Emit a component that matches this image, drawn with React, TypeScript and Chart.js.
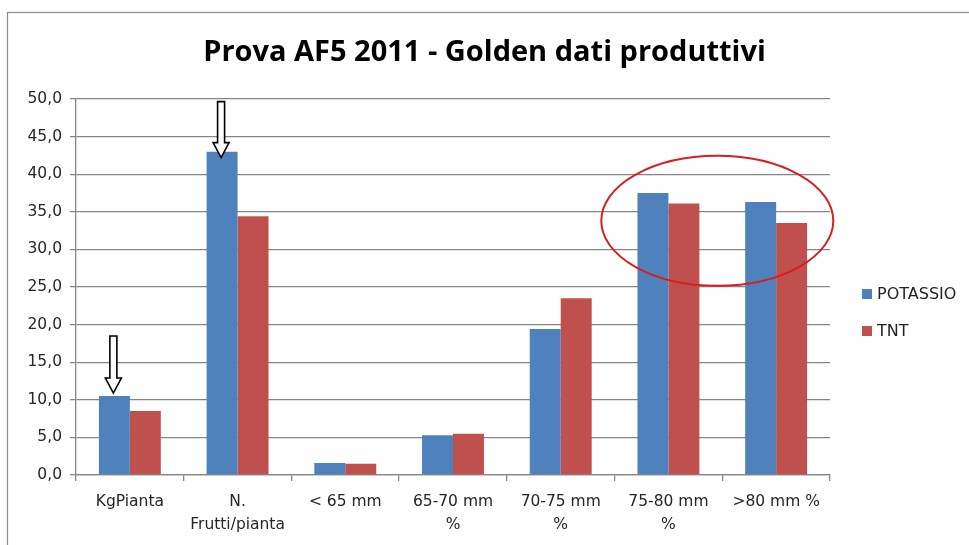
import React, { useEffect, useRef } from "react";
import { Chart, registerables } from "chart.js";

Chart.register(...registerables);

const chartTitle = "Prova AF5 2011 - Golden dati produttivi";
const categories: string[][] = [
  ["KgPianta"],
  ["N.", "Frutti/pianta"],
  ["< 65 mm"],
  ["65-70 mm", "%"],
  ["70-75 mm", "%"],
  ["75-80 mm", "%"],
  [">80 mm %"],
];
const seriesNames = ["POTASSIO", "TNT"];
const potassio = [10.5, 43.0, 1.6, 5.3, 19.4, 37.5, 36.3];
const tnt = [8.5, 34.4, 1.5, 5.5, 23.5, 36.1, 33.5];
const yMin = 0;
const yMax = 50;
const yStep = 5;
// annotated bars (POTASSIO series) and highlighted categories
const arrowBarIndices = [0, 1];
const highlightedCategories = [5, 6];

const BLUE = "#4F81BD";
const RED = "#C0504D";
const AXIS_FONT = "'DejaVu Sans', sans-serif";
const TITLE_FONT = "'Open Sans', 'DejaVu Sans', sans-serif";

const framePlugin = {
  id: "frame",
  beforeDraw(chart: any) {
    const ctx = chart.ctx;
    ctx.save();
    ctx.fillStyle = "#ffffff";
    ctx.fillRect(0, 0, chart.width, chart.height);
    ctx.strokeStyle = "#8c8c8c";
    ctx.lineWidth = 1.2;
    ctx.strokeRect(7.5, 12.5, chart.width + 20, chart.height + 20);
    ctx.restore();
  },
};

const legendPlugin = {
  id: "sideLegend",
  afterDraw(chart: any) {
    const ctx = chart.ctx;
    const area = chart.chartArea;
    ctx.save();
    ctx.font = `16px ${AXIS_FONT}`;
    ctx.textBaseline = "middle";
    ctx.textAlign = "left";
    chart.data.datasets.forEach((ds: any, i: number) => {
      const cy = area.top + 195 + i * 37;
      const x = area.right + 32;
      ctx.fillStyle = ds.backgroundColor;
      ctx.fillRect(x, cy - 5, 10, 10);
      ctx.fillStyle = "#222222";
      ctx.fillText(ds.label, x + 15, cy + 1);
    });
    ctx.restore();
  },
};

const annotationPlugin = {
  id: "marks",
  afterDatasetsDraw(chart: any) {
    const ctx = chart.ctx;
    const meta = chart.getDatasetMeta(0);
    ctx.save();
    arrowBarIndices.forEach((idx, k) => {
      const bar = meta.data[idx];
      const x = bar.x - 1;
      const tip = k === 0 ? bar.y - 3 : bar.y + 6;
      const len = k === 0 ? 57 : 56;
      const headH = 15;
      const hw = 8;
      const sw = 3.5;
      ctx.beginPath();
      ctx.moveTo(x - sw, tip - len);
      ctx.lineTo(x + sw, tip - len);
      ctx.lineTo(x + sw, tip - headH);
      ctx.lineTo(x + hw, tip - headH);
      ctx.lineTo(x, tip);
      ctx.lineTo(x - hw, tip - headH);
      ctx.lineTo(x - sw, tip - headH);
      ctx.closePath();
      ctx.fillStyle = "#ffffff";
      ctx.fill();
      ctx.strokeStyle = "#000000";
      ctx.lineWidth = 1.6;
      ctx.stroke();
    });
    const xs = chart.scales.x;
    const ys = chart.scales.y;
    const c1 = xs.getPixelForValue(highlightedCategories[0]);
    const c2 = xs.getPixelForValue(highlightedCategories[1]);
    const cx = (c1 + c2) / 2 - 5;
    const cy = ys.getPixelForValue(33.8);
    ctx.beginPath();
    ctx.ellipse(cx, cy, 116, 65, 0, 0, Math.PI * 2);
    ctx.strokeStyle = "#d42020";
    ctx.lineWidth = 2;
    ctx.stroke();
    ctx.restore();
  },
};

export default function App() {
  const ref = useRef<HTMLCanvasElement | null>(null);

  useEffect(() => {
    if (!ref.current) return;
    const chart = new Chart(ref.current, {
      type: "bar",
      data: {
        labels: categories,
        datasets: [
          {
            label: seriesNames[0],
            data: potassio,
            backgroundColor: BLUE,
            borderWidth: 0,
            categoryPercentage: 0.575,
            barPercentage: 1,
          },
          {
            label: seriesNames[1],
            data: tnt,
            backgroundColor: RED,
            borderWidth: 0,
            categoryPercentage: 0.575,
            barPercentage: 1,
          },
        ],
      },
      options: {
        animation: false,
        responsive: false,
        devicePixelRatio: 1,
        layout: { padding: 0 },
        plugins: {
          legend: { display: false },
          tooltip: { enabled: false },
          title: {
            display: true,
            text: chartTitle,
            color: "#000000",
            font: { family: TITLE_FONT, size: 29, weight: "bold", lineHeight: 1.2 },
            padding: { top: 35.5, bottom: 28.7 },
          },
        },
        scales: {
          x: {
            grid: {
              display: true,
              offset: true,
              drawOnChartArea: false,
              drawTicks: true,
              tickLength: 6,
              color: "#868686",
              lineWidth: 1.3,
            },
            border: { display: true, color: "#868686", width: 1.3 },
            ticks: {
              color: "#262626",
              font: { family: AXIS_FONT, size: 15.5, lineHeight: 1.5 },
              padding: 9,
              maxRotation: 0,
              autoSkip: false,
            },
            afterFit(scale: any) {
              scale.height = 70;
            },
          },
          y: {
            min: yMin,
            max: yMax,
            grid: {
              color: "#868686",
              lineWidth: 1.3,
              tickLength: 6,
              drawTicks: true,
            },
            border: { display: true, color: "#868686", width: 1.3 },
            ticks: {
              stepSize: yStep,
              color: "#262626",
              font: { family: AXIS_FONT, size: 15.5 },
              padding: 8,
              callback: (v: any) => Number(v).toFixed(1).replace(".", ","),
            },
            afterFit(scale: any) {
              scale.width = 76;
            },
          },
          legendSpace: {
            type: "linear",
            position: "right",
            display: true,
            grid: { display: false, drawTicks: false },
            border: { display: false },
            ticks: { display: false },
            afterFit(scale: any) {
              scale.width = 139;
            },
          },
        },
      },
      plugins: [framePlugin, annotationPlugin, legendPlugin],
    } as any);
    return () => chart.destroy();
  }, []);

  return (
    <div style={{ position: "fixed", left: 0, top: 0, width: 969, height: 545, background: "#fff" }}>
      <canvas ref={ref} width={969} height={545} style={{ display: "block" }} />
    </div>
  );
}
